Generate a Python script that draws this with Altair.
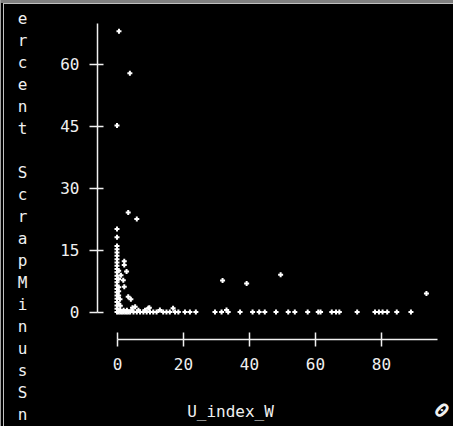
import altair as alt
import pandas as pd

# ---- data ----
x_vals = [
    0.6, 3.9, 0.0, 3.4, 6.0, 0.0, 0.0,
    0.0, 0.0, 0.0, 0.0, 0.0, 0.0, 0.0, 0.0, 0.0, 0.0, 0.0,
    0.0, 0.0, 0.0, 0.0, 0.0, 0.0, 0.0, 0.0, 0.0, 0.0,
    0.5, 0.5, 0.5, 0.5, 0.5, 0.5,
    2.2, 2.2, 2.9, 1.2, 1.9, 2.2, 3.4, 4.2, 0.9, 0.5, 1.0,
    5.5, 9.5, 13.0, 17.0, 4.7, 9.8,
    32.0, 39.3, 49.6, 93.8,
    0.5, 1.0, 1.5, 2.0, 2.5, 3.0, 3.5, 4.0, 5.0, 6.0, 7.0, 8.0,
    9.0, 10.0, 11.0, 12.0, 14.0, 15.0, 16.0, 17.6, 18.6, 20.6, 22.1, 23.9,
    1.0, 2.0, 3.0, 4.5, 6.5, 8.5,
    29.7, 31.7, 33.2, 33.7, 37.3, 41.1, 43.1, 44.8, 48.2, 51.9, 53.9,
    57.8, 61.0, 61.7, 65.1, 66.4, 67.4, 72.8, 78.2, 79.4, 80.5, 81.9,
    84.8, 89.1,
]
y_vals = [
    68.0, 57.8, 45.2, 24.1, 22.5, 20.1, 18.1,
    16.0, 15.2, 14.4, 13.6, 12.8, 12.0, 11.2, 10.4, 9.6, 8.8, 8.0,
    7.2, 6.4, 5.6, 4.8, 4.0, 3.2, 2.4, 1.6, 0.8, 0.0,
    10.0, 8.0, 6.0, 4.0, 2.0, 0.5,
    12.3, 11.4, 9.8, 8.9, 7.7, 6.1, 3.7, 3.1, 3.1, 5.0, 1.5,
    1.3, 0.9, 0.5, 0.9, 1.0, 1.0,
    7.6, 6.9, 9.0, 4.5,
    0.0, 0.0, 0.0, 0.0, 0.0, 0.0, 0.0, 0.0, 0.0, 0.0, 0.0, 0.0,
    0.0, 0.0, 0.0, 0.0, 0.0, 0.0, 0.0, 0.0, 0.0, 0.0, 0.0, 0.0,
    0.4, 0.4, 0.4, 0.4, 0.4, 0.4,
    0.0, 0.0, 0.5, 0.0, 0.0, 0.0, 0.0, 0.0, 0.0, 0.0, 0.0,
    0.0, 0.0, 0.0, 0.0, 0.0, 0.0, 0.0, 0.0, 0.0, 0.0, 0.0,
    0.0, 0.0,
]
x_ticks = [0, 20, 40, 60, 80]
y_ticks = [0, 15, 30, 45, 60]
x_title = "U_index_W"
# vertical y title, one letter per line, as visible in the window
# ("\u2800" is a blank glyph standing for the space between the words)
y_title_letters = ["e", "r", "c", "e", "n", "t", "\u2800",
                   "S", "c", "r", "a", "p", "M", "i", "n", "u", "s", "S", "n"]

df = pd.DataFrame({"U_index_W": x_vals, "PercentScrap": y_vals})

W, H = 320, 289
FONT = "DejaVu Sans Mono"
FG = "#f0f0f0"

plus = "M-1,0L1,0M0,-1L0,1"

xscale = alt.Scale(domain=[0, 97], nice=False, zero=False)
yscale = alt.Scale(domain=[0, 70], nice=False, zero=False)

base = alt.Chart(df)

pts = base.mark_point(
    shape=plus, filled=False, stroke="white", strokeWidth=2, size=25, opacity=1
).encode(
    x=alt.X("U_index_W:Q", scale=xscale,
            axis=alt.Axis(orient="bottom", offset=27, values=x_ticks, tickSize=7,
                          labelPadding=10, labelFlush=False, grid=False, title=x_title,
                          titleX=113, titleY=77, titleBaseline="alphabetic",
                          titleAlign="center", titleAnchor=None)),
    y=alt.Y("PercentScrap:Q", scale=yscale,
            axis=alt.Axis(orient="left", offset=20, values=y_ticks, tickSize=8,
                          labelPadding=10, labelFlush=False, grid=False,
                          title=y_title_letters,
                          titleAngle=0, titleX=-75, titleY=0,
                          titleAlign="center", titleBaseline="alphabetic",
                          titleLineHeight=22)),
)

ghost = base.mark_point(opacity=0, size=1).encode(
    x=alt.X("U_index_W:Q", scale=xscale,
            axis=alt.Axis(orient="top", offset=-(H + 27), values=x_ticks, tickSize=7,
                          labels=False, domain=False, grid=False, title=None)),
    y=alt.Y("PercentScrap:Q", scale=yscale,
            axis=alt.Axis(orient="right", offset=-(W + 20), values=y_ticks, tickSize=6,
                          labels=False, domain=False, grid=False, title=None)),
)

frame_top = base.mark_rule(color="#808080", strokeWidth=3).encode(
    x=alt.value(-117), x2=alt.value(W + 16), y=alt.value(-23 + 1.5))
frame_top2 = base.mark_rule(color="#c0c0c0", strokeWidth=1).encode(
    x=alt.value(-117 + 3), x2=alt.value(W + 16), y=alt.value(-23 + 3.5))
frame_left = base.mark_rule(color="#a0a0a0", strokeWidth=1).encode(
    y=alt.value(-23), y2=alt.value(H + 114), x=alt.value(-117 + 0.5))
frame_left2 = base.mark_rule(color="#c0c0c0", strokeWidth=1).encode(
    y=alt.value(-23 + 3), y2=alt.value(H + 114), x=alt.value(-117 + 3.5))

icon = alt.Chart(pd.DataFrame({"t": ["0"]})).mark_text(
    font=FONT, fontSize=20, color=FG, angle=45, align="center", baseline="middle",
    fontWeight="bold"
).encode(text="t:N", x=alt.value(324), y=alt.value(388))

chart = alt.layer(pts, ghost, frame_top, frame_top2, frame_left, frame_left2, icon).resolve_axis(
    x="independent", y="independent"
).properties(
    width=W, height=H,
    background="black",
    padding={"left": 117, "top": 23, "right": 16, "bottom": 114},
    autosize=alt.AutoSizeParams(type="none"),
).configure_view(stroke=None).configure_axis(
    domainColor=FG, tickColor=FG, labelColor=FG, titleColor=FG,
    labelFont=FONT, titleFont=FONT, labelFontSize=16, titleFontSize=16,
    titleFontWeight="normal", domainWidth=1.5, tickWidth=1.5,
)

chart.save("out.html", embed_options={"renderer": "svg", "actions": False})
